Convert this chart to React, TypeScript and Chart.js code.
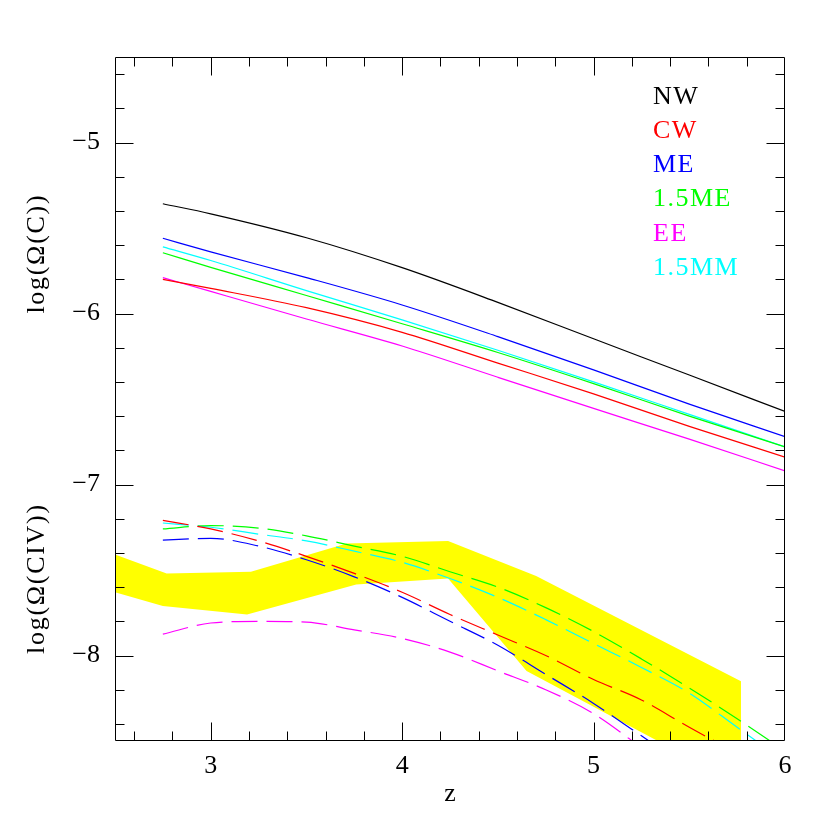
import React, { useEffect, useRef } from "react";
import { Chart, registerables } from "chart.js";

Chart.register(...registerables);

// ---- data ----
const zSolid = [2.75, 3, 3.5, 4, 4.5, 5, 5.5, 6];
const omegaC_NW = [-5.358, -5.417, -5.557, -5.732, -5.935, -6.148, -6.36, -6.573];
const omegaC_CW = [-5.8, -5.853, -5.966, -6.11, -6.29, -6.47, -6.66, -6.84];
const omegaC_ME = [-5.56, -5.64, -5.79, -5.95, -6.135, -6.33, -6.53, -6.72];
const omegaC_15ME = [-5.645, -5.73, -5.895, -6.06, -6.228, -6.41, -6.6, -6.78];
const omegaC_EE = [-5.79, -5.871, -6.032, -6.19, -6.373, -6.555, -6.735, -6.92];
const omegaC_15MM = [-5.61, -5.69, -5.866, -6.037, -6.215, -6.4, -6.59, -6.78];

const zDash = [2.75, 3, 3.25, 3.5, 3.75, 4, 4.25, 4.5, 4.75, 5, 5.25, 5.5, 5.75, 6];
const omegaCIV_CW = [-7.21, -7.26, -7.33, -7.42, -7.52, -7.63, -7.76, -7.88, -8.0, -8.14, -8.26, -8.42, -8.57, -8.72];
const omegaCIV_ME = [-7.325, -7.315, -7.36, -7.44, -7.54, -7.66, -7.8, -7.94, -8.11, -8.28, -8.47, -8.66];
const omegaCIV_15ME = [-7.26, -7.24, -7.255, -7.3, -7.36, -7.42, -7.51, -7.6, -7.72, -7.86, -8.02, -8.19, -8.37, -8.56];
const omegaCIV_EE = [-7.875, -7.81, -7.8, -7.805, -7.85, -7.9, -7.98, -8.09, -8.2, -8.34, -8.54, -8.75];
const omegaCIV_15MM = [-7.225, -7.25, -7.29, -7.33, -7.39, -7.455, -7.55, -7.66, -7.79, -7.93, -8.07, -8.22, -8.42, -8.62];

// observed band (yellow)
const bandUpperZ = [2.5, 2.77, 3.21, 3.71, 4.24, 4.7, 5.77];
const bandUpper = [-7.41, -7.52, -7.51, -7.345, -7.33, -7.535, -8.15];
const bandLowerZ = [2.5, 2.75, 3.19, 3.76, 4.24, 4.65, 5.77];
const bandLower = [-7.63, -7.71, -7.76, -7.585, -7.55, -8.09, -8.76];

const xTickValues = [3, 4, 5, 6];
const yTickValues = [-8, -7, -6, -5];

const modelNames = ["NW", "CW", "ME", "1.5ME", "EE", "1.5MM"];
const modelColors = ["#000000", "#ff0000", "#0000ff", "#00ff00", "#ff00ff", "#00ffff"];
const yTitles = ["log(\u03A9(C))", "log(\u03A9(CIV))"];
const yTitleValues = [-5.65, -7.55];
const xTitle = "z";

const FONT = "'Liberation Serif', 'Times New Roman', serif";

const pts = (xs: number[], ys: number[]) => ys.map((y, i) => ({ x: xs[i], y }));

const framePlugin = {
  id: "frameTicks",
  afterDatasetsDraw(chart: any) {
    const { ctx, chartArea, scales } = chart;
    const { left, right, top, bottom } = chartArea;
    const xs = scales.x;
    const ys = scales.y;
    ctx.save();
    ctx.strokeStyle = "#000";
    ctx.lineWidth = 1;
    const L = Math.round(left) + 0.5;
    const R = Math.round(right) - 0.5;
    const T = Math.round(top) + 0.5;
    const B = Math.round(bottom) - 0.5;
    ctx.beginPath();
    ctx.rect(L, T, R - L, B - T);
    ctx.stroke();
    ctx.beginPath();
    const kx0 = Math.ceil(xs.min / 0.2 - 1e-6);
    const kx1 = Math.floor(xs.max / 0.2 + 1e-6);
    for (let k = kx0; k <= kx1; k++) {
      const v = k * 0.2;
      const len = k % 5 === 0 ? 18 : 9;
      const px = Math.round(xs.getPixelForValue(v)) + 0.5;
      if (px <= L + 1 || px >= R - 1) continue;
      ctx.moveTo(px, B);
      ctx.lineTo(px, B - len);
      ctx.moveTo(px, T);
      ctx.lineTo(px, T + len);
    }
    const ky0 = Math.ceil(ys.min / 0.2 - 1e-6);
    const ky1 = Math.floor(ys.max / 0.2 + 1e-6);
    for (let k = ky0; k <= ky1; k++) {
      const v = k * 0.2;
      const len = k % 5 === 0 ? 18 : 9;
      const py = Math.round(ys.getPixelForValue(v)) + 0.5;
      if (py <= T + 1 || py >= B - 1) continue;
      ctx.moveTo(L, py);
      ctx.lineTo(L + len, py);
      ctx.moveTo(R, py);
      ctx.lineTo(R - len, py);
    }
    ctx.stroke();
    ctx.restore();
  },
  afterDraw(chart: any) {
    const { ctx, chartArea, scales } = chart;
    ctx.save();
    ctx.font = `26px ${FONT}`;
    ctx.textBaseline = "middle";
    ctx.fillStyle = "#000";
    ctx.textAlign = "center";
    try { (ctx as any).letterSpacing = "1.7px"; } catch (e) {}
    yTitles.forEach((t, i) => {
      const py = scales.y.getPixelForValue(yTitleValues[i]);
      ctx.save();
      ctx.translate(37, py);
      ctx.rotate(-Math.PI / 2);
      ctx.fillText(t, 0, 0);
      ctx.restore();
    });
    try { (ctx as any).letterSpacing = "1.5px"; } catch (e) {}
    ctx.textAlign = "left";
    const lx = chartArea.right - 132;
    modelNames.forEach((n, i) => {
      ctx.fillStyle = modelColors[i];
      ctx.fillText(n, lx, chartArea.top + 40 + i * 34.2);
    });
    ctx.restore();
  },
};

export default function App() {
  const ref = useRef<HTMLCanvasElement | null>(null);
  useEffect(() => {
    if (!ref.current) return;
    const solidSeries = [omegaC_NW, omegaC_CW, omegaC_ME, omegaC_15ME, omegaC_EE, omegaC_15MM];
    const dashSeries = [null, omegaCIV_CW, omegaCIV_ME, omegaCIV_15ME, omegaCIV_EE, omegaCIV_15MM];
    const datasets: any[] = [];
    solidSeries.forEach((s, i) => {
      datasets.push({
        label: modelNames[i],
        data: pts(zSolid, s),
        borderColor: modelColors[i],
        borderWidth: 1.2,
        pointRadius: 0,
        fill: false,
        cubicInterpolationMode: "monotone",
      });
    });
    dashSeries.forEach((s, i) => {
      if (!s) return;
      datasets.push({
        label: modelNames[i] + " CIV",
        data: pts(zDash, s),
        borderColor: modelColors[i],
        borderWidth: 1.2,
        borderDash: [26, 9],
        pointRadius: 0,
        fill: false,
        cubicInterpolationMode: "monotone",
      });
    });
    const bandIdx = datasets.length;
    datasets.push({
      label: "obs upper",
      data: pts(bandUpperZ, bandUpper),
      borderColor: "rgba(0,0,0,0)",
      borderWidth: 0,
      backgroundColor: "#ffff00",
      pointRadius: 0,
      fill: bandIdx + 1,
      order: 10,
    });
    datasets.push({
      label: "obs lower",
      data: pts(bandLowerZ, bandLower),
      borderColor: "rgba(0,0,0,0)",
      borderWidth: 0,
      backgroundColor: "#ffff00",
      pointRadius: 0,
      fill: false,
      order: 10,
    });

    const tickFont = { family: FONT, size: 26 };
    const chart = new Chart(ref.current, {
      type: "line",
      data: { datasets },
      plugins: [framePlugin],
      options: {
        animation: false,
        responsive: false,
        devicePixelRatio: 1,
        layout: { padding: { top: 57, right: 45, left: 0, bottom: 0 } },
        plugins: { legend: { display: false }, tooltip: { enabled: false } },
        scales: {
          x: {
            type: "linear",
            min: 2.5,
            max: 6,
            grid: { display: false, drawTicks: false },
            border: { display: false },
            ticks: {
              padding: 10,
              color: "#000",
              font: tickFont,
              maxRotation: 0,
              autoSkip: false,
              callback: (v: any) => String(v),
            },
            afterBuildTicks: (s: any) => {
              s.ticks = xTickValues.map((v) => ({ value: v }));
            },
            title: {
              display: true,
              text: xTitle,
              color: "#000",
              font: tickFont,
              padding: { top: 0, bottom: 20 },
            },
            afterFit: (s: any) => {
              s.height = 89;
            },
          },
          y: {
            type: "linear",
            min: -8.5,
            max: -4.5,
            grid: { display: false, drawTicks: false },
            border: { display: false },
            ticks: {
              padding: 15,
              color: "#000",
              font: tickFont,
              autoSkip: false,
              callback: (v: any) => (v < 0 ? "\u2212" + Math.abs(v) : String(v)),
            },
            afterBuildTicks: (s: any) => {
              s.ticks = yTickValues.map((v) => ({ value: v }));
            },
            afterFit: (s: any) => {
              s.width = 115;
            },
          },
        },
      } as any,
    });
    return () => chart.destroy();
  }, []);
  return (
    <div style={{ position: "absolute", left: 0, top: 0, width: 830, height: 830, background: "#fff" }}>
      <canvas ref={ref} width={830} height={830} />
    </div>
  );
}
